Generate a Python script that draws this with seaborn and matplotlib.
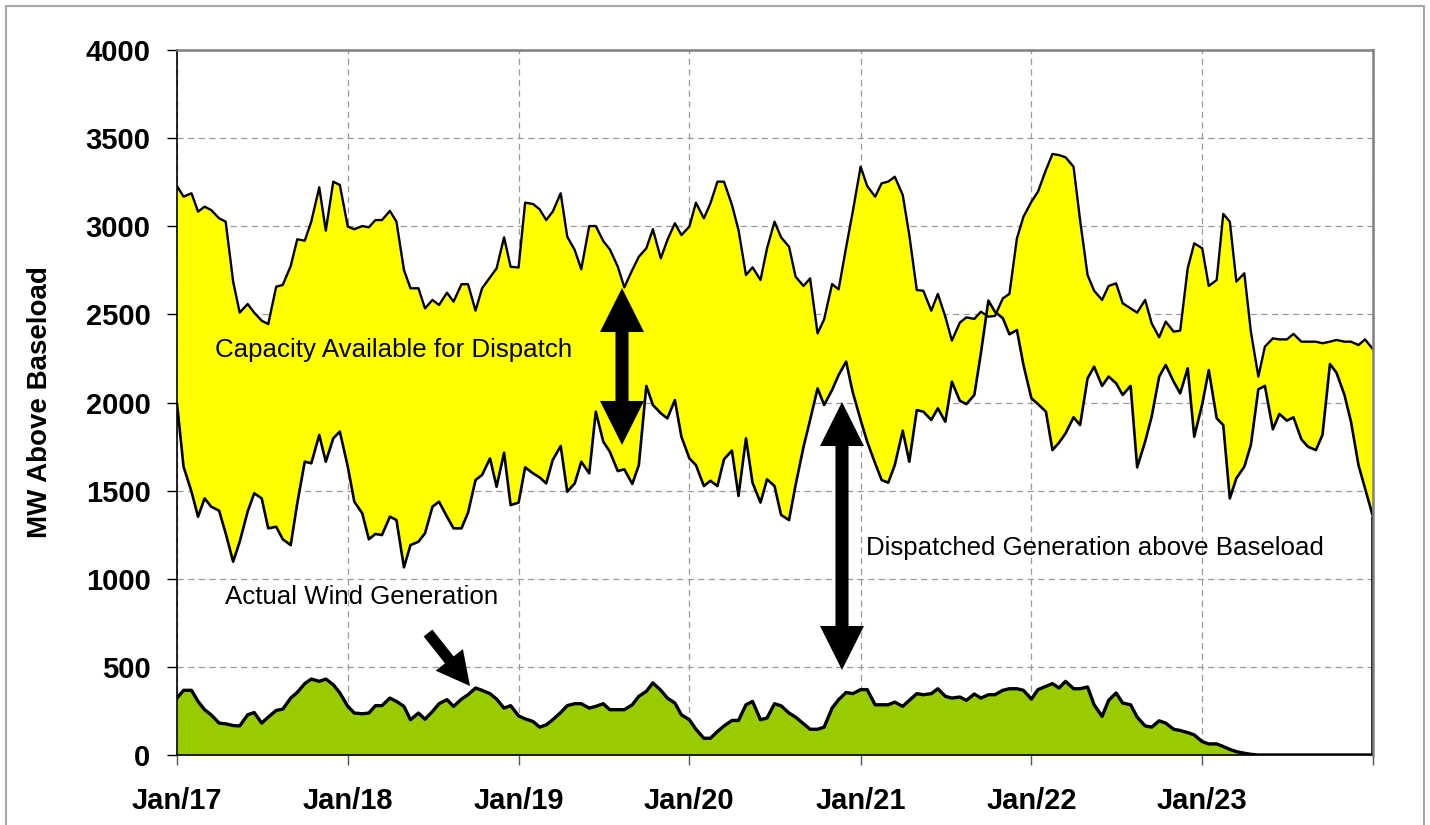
import numpy as np
import pandas as pd
import matplotlib
matplotlib.use("Agg")
import matplotlib.pyplot as plt
import seaborn as sns
from matplotlib.patches import Rectangle

# ---------------- data ----------------
dates = pd.date_range("2017-01-01", "2024-01-01", freq="SMS")

capacity = [
    3228, 3168, 3187, 3083, 3111, 3092, 3045, 3026, 2686, 2510, 2559, 2510, 2464, 2445, 2657, 2667,
    2774, 2926, 2918, 3026, 3221, 2975, 3253, 3234, 2998, 2983, 3001, 2994, 3035, 3035, 3087, 3026,
    2752, 2648, 2648, 2534, 2582, 2553, 2623, 2572, 2671, 2671, 2521, 2648, 2710, 2761, 2937, 2770,
    2766, 3134, 3126, 3096, 3035, 3083, 3187, 2941, 2865, 2756, 3001, 3001, 2916, 2869, 2771, 2653,
    2752, 2827, 2875, 2983, 2818, 2922, 3017, 2950, 2998, 3134, 3045, 3130, 3253, 3253, 3121, 2979,
    2723, 2767, 2695, 2875, 3026, 2937, 2884, 2714, 2661, 2704, 2392, 2472, 2672, 2642, 2880, 3080,
    3338, 3228, 3168, 3244, 3253, 3281, 3177, 2950, 2638, 2634, 2521, 2616, 2487, 2351, 2453, 2483,
    2474, 2515, 2487, 2491, 2591, 2616, 2931, 3054, 3139, 3196, 3319, 3410, 3404, 3391, 3338, 3035,
    2723, 2634, 2582, 2661, 2676, 2563, 2534, 2510, 2582, 2449, 2370, 2459, 2402, 2408, 2761, 2903,
    2875, 2661, 2695, 3070, 3026, 2686, 2733, 2402, 2147, 2317, 2364, 2358, 2358, 2389, 2345, 2345,
    2345, 2336, 2345, 2355, 2345, 2345, 2326, 2358, 2302,
]

dispatched = [
    1995, 1636, 1494, 1352, 1456, 1409, 1386, 1258, 1097, 1210, 1381, 1485, 1456, 1286, 1295, 1224,
    1191, 1428, 1664, 1655, 1816, 1664, 1797, 1835, 1636, 1437, 1371, 1224, 1254, 1248, 1352, 1333,
    1065, 1191, 1210, 1258, 1409, 1437, 1352, 1286, 1286, 1375, 1560, 1589, 1683, 1522, 1715, 1418,
    1432, 1632, 1598, 1575, 1541, 1674, 1753, 1494, 1541, 1664, 1598, 1948, 1778, 1721, 1611, 1621,
    1538, 1645, 2094, 1986, 1939, 1910, 2014, 1806, 1683, 1645, 1526, 1556, 1526, 1678, 1727, 1470,
    1797, 1545, 1432, 1564, 1526, 1362, 1333, 1532, 1749, 1901, 2080, 1986, 2071, 2156, 2232, 2060,
    1901, 1778, 1655, 1560, 1545, 1645, 1840, 1664, 1957, 1948, 1901, 1967, 1891, 2118, 2010, 1991,
    2043, 2279, 2578, 2515, 2478, 2387, 2411, 2213, 2024, 1991, 1948, 1730, 1772, 1825, 1916, 1872,
    2137, 2203, 2094, 2147, 2109, 2043, 2094, 1632, 1778, 1920, 2147, 2213, 2118, 2052, 2194, 1806,
    1990, 2184, 1910, 1872, 1456, 1570, 1636, 1759, 2075, 2094, 1848, 1935, 1897, 1916, 1791, 1749,
    1730, 1816, 2218, 2169, 2043, 1891, 1645, 1513, 1352,
]

wind = [
    323, 367, 367, 304, 257, 228, 181, 177, 167, 165, 228, 241, 181, 215, 253, 260,
    323, 355, 405, 431, 418, 431, 399, 352, 276, 238, 234, 238, 280, 280, 323, 304,
    276, 200, 238, 203, 247, 291, 314, 276, 317, 342, 380, 367, 348, 317, 266, 280,
    222, 205, 190, 158, 171, 200, 241, 280, 291, 291, 266, 276, 291, 257, 257, 257,
    285, 333, 361, 409, 367, 323, 295, 228, 200, 146, 95, 95, 133, 165, 196, 196,
    285, 304, 200, 210, 291, 279, 238, 215, 177, 146, 146, 158, 266, 314, 355, 348,
    371, 371, 285, 285, 285, 300, 276, 310, 348, 342, 348, 376, 333, 323, 329, 310,
    346, 323, 342, 342, 367, 376, 376, 367, 317, 371, 390, 405, 380, 418, 376, 376,
    386, 285, 219, 310, 352, 295, 285, 215, 165, 158, 194, 181, 146, 139, 127, 114,
    76, 63, 63, 48, 32, 19, 10, 4, 0, 0, 0, 0, 0, 0, 0, 0,
    0, 0, 0, 0, 0, 0, 0, 0, 0,
]

tick_dates = pd.to_datetime(["2017-01-01", "2018-01-01", "2019-01-01", "2020-01-01",
                             "2021-01-01", "2022-01-01", "2023-01-01", "2024-01-01"])
tick_labels = ["Jan/17", "Jan/18", "Jan/19", "Jan/20", "Jan/21", "Jan/22", "Jan/23", ""]
y_ticks = [0, 500, 1000, 1500, 2000, 2500, 3000, 3500, 4000]

label_capacity = "Capacity Available for Dispatch"
label_wind = "Actual Wind Generation"
label_dispatched = "Dispatched Generation above Baseload"
y_title = "MW Above Baseload"

df = pd.DataFrame({"date": dates, "capacity": capacity,
                   "dispatched": dispatched, "wind": wind})

# ---------------- style ----------------
sns.set_theme(style="white")
plt.rcParams["font.family"] = ["Liberation Sans", "DejaVu Sans"]
plt.rcParams["text.color"] = "black"

W, H = 1430, 825
fig = plt.figure(figsize=(W / 100, H / 100), dpi=100)
L, R, T, B = 177, 1373, 50, 755
ax = fig.add_axes([L / W, 1 - B / H, (R - L) / W, (B - T) / H])

def ax_pt(px, py):
    return ((px - L) / (R - L), (B - py) / (B - T))

# fills
ax.fill_between(df["date"], df["dispatched"], df["capacity"], color="#FFFF00", lw=0, zorder=1)
ax.fill_between(df["date"], 0, df["wind"], color="#99CC00", lw=0, zorder=2)

# lines
sns.lineplot(data=df, x="date", y="capacity", color="black", lw=1.7, ax=ax, zorder=3)
sns.lineplot(data=df, x="date", y="dispatched", color="black", lw=1.9, ax=ax, zorder=3)
sns.lineplot(data=df, x="date", y="wind", color="black", lw=2.4, ax=ax, zorder=4)
ax.vlines(df["date"].iloc[-1], 0, df["dispatched"].iloc[-1], color="black", lw=2.6, zorder=5)

# axes
ax.set_xlim(dates[0], dates[-1])
ax.set_ylim(0, 4000)
ax.set_xticks(tick_dates)
ax.set_xticklabels(tick_labels)
ax.set_yticks(y_ticks)
ax.set_yticklabels([str(v) for v in y_ticks])
for lab in ax.get_xticklabels() + ax.get_yticklabels():
    lab.set_fontsize(21)
    lab.set_fontweight("bold")
    lab.set_color("black")
ax.tick_params(axis="x", bottom=True, direction="out", length=7, width=1, color="#555555", pad=16)
ax.tick_params(axis="y", left=True, direction="out", length=7, width=1, color="black", pad=12)

ax.set_xlabel("")
ax.set_ylabel(y_title, fontsize=20, fontweight="bold", color="black")
ax.yaxis.set_label_coords(-0.104, 0.5)

ax.set_axisbelow(True)
ax.grid(True, linestyle=(0, (5, 3.5)), color="#9a9a9a", lw=0.9, zorder=0)

for s in ["left", "bottom"]:
    ax.spines[s].set_color("black")
    ax.spines[s].set_linewidth(1.2)
for s in ["top", "right"]:
    ax.spines[s].set_color("#808080")
    ax.spines[s].set_linewidth(1.8)
    ax.spines[s].set_zorder(6)

# annotations
txt_kw = dict(transform=ax.transAxes, fontsize=18.6, va="baseline", color="black", zorder=7)
ax.text(*ax_pt(215, 357), label_capacity, **txt_kw)
ax.text(*ax_pt(225, 604), label_wind, **txt_kw)
ax.text(*ax_pt(866, 555), label_dispatched, **txt_kw)

def fat_arrow(tail, tip, hl, hw, tw):
    ax.annotate("", xy=ax_pt(*tip), xytext=ax_pt(*tail),
                xycoords="axes fraction", textcoords="axes fraction",
                arrowprops=dict(arrowstyle=f"simple,head_length={hl},head_width={hw},tail_width={tw}",
                                mutation_scale=1, fc="black", ec="black", lw=0,
                                shrinkA=0, shrinkB=0), zorder=8)

# double arrow (capacity)
fat_arrow((622, 366), (622, 288), 31.7, 31.7, 9.4)
fat_arrow((622, 366), (622, 445), 31.7, 31.7, 9.4)
# double arrow (dispatched)
fat_arrow((842, 536), (842, 402), 31.7, 31.7, 9.4)
fat_arrow((842, 536), (842, 670), 31.7, 31.7, 9.4)
# wind arrow
fat_arrow((428, 633), (470, 686), 24, 25, 8)

# outer chart border
fig.add_artist(Rectangle((6 / W, -0.05), (1424 - 6) / W, 1.05 - 6.5 / H,
                         transform=fig.transFigure, fill=False, ec="#a6a6a6", lw=1.5))

fig.savefig("out.png", dpi=100)
